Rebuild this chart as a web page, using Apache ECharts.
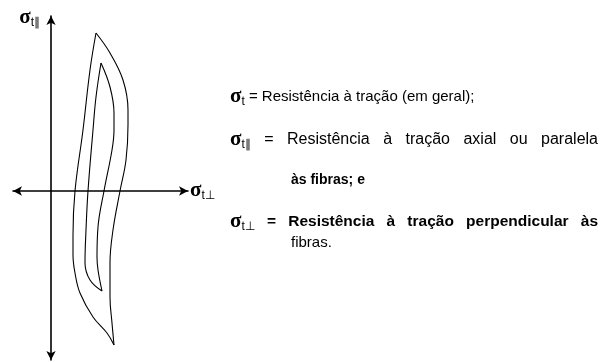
<!DOCTYPE html>
<html>
<head>
<meta charset="utf-8">
<script src="https://cdn.jsdelivr.net/npm/echarts@6/dist/echarts.min.js"></script>
<style>
  html, body { margin: 0; padding: 0; background: #fff; }
  #chart { width: 605px; height: 362px; }
</style>
</head>
<body>
<div id="chart"></div>
<script>
// contorno externo e interno (origem no cruzamento dos eixos)
const outerRight = [[45, 158], [59, 138], [72, 111], [77, 81], [77, 66], [75, 31], [69, 0], [62, -39], [59, -72], [59, -106], [61, -132], [63, -154]];
const outerLeft = [[45, 158], [39, 121], [32, 61], [24, 0], [22, -44], [22, -64], [24, -82], [29, -102], [42, -126], [56, -142], [63, -154]];
const innerRight = [[50, 128], [59, 104], [63, 78], [63, 61], [61, 41], [53, 0], [47, -36], [46, -66], [47, -79], [51, -100]];
const innerLeft = [[50, 128], [45, 94], [42, 61], [37, 0], [35, -39], [34, -72], [39, -89], [51, -100]];

const xRange = [-38, 137];
const yRange = [-169, 175];

// legenda: subscrito do sigma, texto, estilo
const legendSubs = ["t", "t∥", null, "t⊥", null];
const legendTexts = [
  "= Resistência à tração (em geral);",
  "= Resistência à tração axial ou paralela",
  "às fibras; e",
  "= Resistência à tração perpendicular às",
  "fibras."
];
const legendStyles = ["n", "m", "b", "c", "n"];
const legendJustify = [false, true, false, true, false];

const SANS = "'Liberation Sans', Arial, sans-serif";
const SERIF = "'Liberation Serif', serif";

const rich = {
  s: { fontSize: 21, fontWeight: "bold", fontFamily: SERIF, color: "#000" },
  sub: { fontSize: 12, fontFamily: SANS, color: "#000", padding: [9, 0, 0, 0] },
  n: { fontSize: 15, fontFamily: SANS, color: "#000" },
  m: { fontSize: 16, fontFamily: SANS, color: "#000" },
  b: { fontSize: 14, fontWeight: "bold", fontFamily: SANS, color: "#000" },
  c: { fontSize: 15.5, fontWeight: "bold", fontFamily: SANS, color: "#000" }
};

const ctx = document.createElement("canvas").getContext("2d");
function measure(text, st) {
  const r = rich[st];
  ctx.font = (r.fontWeight || "normal") + " " + r.fontSize + "px " + r.fontFamily;
  return ctx.measureText(text).width;
}

const chart = echarts.init(document.getElementById("chart"));

const axisLine = (syms) => ({
  show: true,
  onZero: true,
  symbol: syms,
  symbolSize: [7, 9],
  lineStyle: { color: "#000", width: 1.6 }
});

function curve(data) {
  return {
    type: "line",
    data: data,
    smooth: 0.4,
    showSymbol: false,
    symbol: "none",
    lineStyle: { color: "#000", width: 1.1 },
    silent: true
  };
}

const textX = [230, 230, 291, 230, 291];
const textY = [97, 140, 180, 222, 243];
const rightEdge = 598;

// monta cada linha palavra a palavra (linhas 2 e 4 justificadas)
const graphics = [];
legendTexts.forEach((body, i) => {
  const st = legendStyles[i];
  const words = [];
  if (legendSubs[i]) {
    words.push({
      text: "{s|σ}{sub|" + legendSubs[i] + "}",
      w: measure("σ", "s") + measure(legendSubs[i], "sub")
    });
  }
  body.split(" ").forEach((wd) => words.push({ text: "{" + st + "|" + wd + "}", w: measure(wd, st) }));
  const total = words.reduce((a, b) => a + b.w, 0);
  let gap = measure(" ", st);
  if (legendJustify[i]) gap = Math.max(gap, (rightEdge - textX[i] - total) / (words.length - 1));
  let x = textX[i];
  words.forEach((wd) => {
    graphics.push({
      type: "text",
      x: x,
      y: textY[i],
      silent: true,
      style: { text: wd.text, rich: rich, fill: "#000", verticalAlign: "middle" }
    });
    x += wd.w + gap;
  });
});

chart.setOption({
  animation: false,
  backgroundColor: "#fff",
  grid: { left: 13, top: 16, width: 175, height: 344 },
  xAxis: {
    type: "value",
    min: xRange[0],
    max: xRange[1],
    axisLine: axisLine(["arrow", "arrow"]),
    axisTick: { show: false },
    axisLabel: { show: false },
    splitLine: { show: false },
    name: "{s|σ}{sub|t⊥}",
    nameLocation: "end",
    nameGap: 2,
    nameTextStyle: { rich: rich, align: "left", verticalAlign: "middle" }
  },
  yAxis: {
    type: "value",
    min: yRange[0],
    max: yRange[1],
    axisLine: axisLine(["arrow", "arrow"]),
    axisTick: { show: false },
    axisLabel: { show: false },
    splitLine: { show: false },
    name: "{s|σ}{sub|t∥}",
    nameLocation: "end",
    nameGap: -2,
    nameTextStyle: { rich: rich, align: "right", verticalAlign: "middle", padding: [0, 11, 0, 0] }
  },
  series: [curve(outerLeft), curve(outerRight), curve(innerLeft), curve(innerRight)],
  graphic: graphics
});
</script>
</body>
</html>
